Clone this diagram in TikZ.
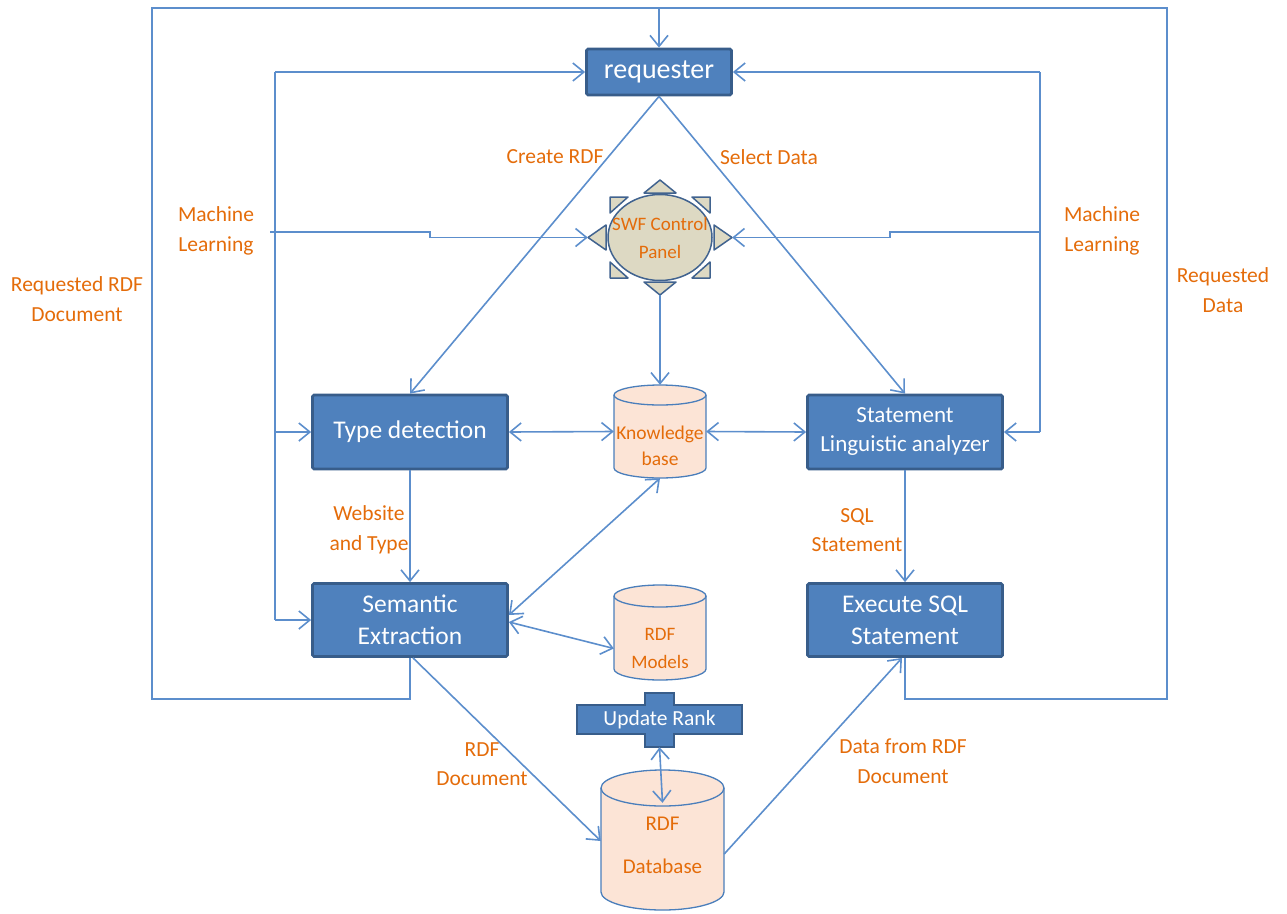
\documentclass[tikz,border=0pt]{standalone}
\usepackage{fontspec}
\setmainfont{Carlito}
\usetikzlibrary{arrows.meta,backgrounds}
\definecolor{boxfill}{HTML}{4F81BD}
\definecolor{boxline}{HTML}{385D8A}
\definecolor{conncol}{HTML}{5C8ECC}
\definecolor{lblcol}{HTML}{E46C0A}
\definecolor{cylfill}{HTML}{FCE4D6}
\definecolor{cylline}{HTML}{4A7EBB}
\definecolor{swffill}{HTML}{DDD9C3}
\definecolor{swfline}{HTML}{41638F}
\begin{document}
\begin{tikzpicture}[x=1pt,y=-1pt,
 box/.style={draw=boxline, fill=boxfill, line width=2.8pt, rounded corners=1.5pt, text=white, align=center, inner sep=0pt},
 lbl/.style={text=lblcol, align=center, font=\fontsize{21.5}{29.5}\selectfont, inner sep=0pt},
 cyltext/.style={text=lblcol, align=center, inner sep=0pt},
 conn/.style={draw=conncol, line width=1.6pt},
 arr/.style={conn, -{Straight Barb[length=11pt,width=18pt]}},
 darr/.style={conn, {Straight Barb[length=11pt,width=18pt]}-{Straight Barb[length=11pt,width=18pt]}},
 cyl/.style={fill=cylfill, draw=cylline, line width=1.3pt}]

\useasboundingbox (0,0) rectangle (1287,913);

% boxes
\node[box, minimum width=145pt, minimum height=46pt, font=\fontsize{28}{32}\selectfont] (req) at (659,72) {requester};
\node[box, minimum width=195pt, minimum height=74pt, font=\fontsize{25.5}{32}\selectfont] (td) at (410,432) {Type detection};
\node[box, minimum width=195pt, minimum height=74pt, font=\fontsize{23}{29}\selectfont] (sla) at (905,432) {Statement\\Linguistic analyzer};
\node[box, minimum width=195pt, minimum height=73pt, font=\fontsize{25.5}{32}\selectfont] (se) at (410,620) {Semantic\\Extraction};
\node[box, minimum width=195pt, minimum height=73pt, font=\fontsize{25.5}{32}\selectfont] (ex) at (905,620) {Execute SQL\\Statement};

% SWF control panel (sun shape)
\node[minimum width=144pt, minimum height=115pt, inner sep=0pt, text=lblcol, align=center, font=\fontsize{19}{28}\selectfont] (swf) at (660,237.5) {SWF Control\\Panel};
% cylinders
\node[minimum width=92pt, minimum height=93pt, inner sep=0pt,
  label={[cyltext, yshift=-14.5pt, font=\fontsize{19.5}{26}\selectfont]center:Knowledge\\base}] (kb) at (660,431.5) {};
\node[minimum width=92pt, minimum height=95pt, inner sep=0pt,
  label={[cyltext, yshift=-15.5pt, font=\fontsize{19}{28}\selectfont]center:RDF\\Models}] (rm) at (660,632.5) {};
\node[minimum width=123pt, minimum height=142pt, inner sep=0pt,
  label={[cyltext, yshift=-4pt, font=\fontsize{21}{43}\selectfont]center:RDF\\Database}] (db) at (662.5,841) {};
% update rank
\node[minimum width=165pt, minimum height=54pt, inner sep=0pt, text=white, font=\fontsize{21.5}{26}\selectfont] (ur) at (659.5,720) {Update Rank};

\begin{scope}[on background layer]
 % sun
 \begin{scope}[fill=swffill, draw=swfline, line width=1.5pt, line join=round]
  \filldraw (660,180) -- (644,193) -- (676,193) -- cycle;
  \filldraw (660,295) -- (644,282) -- (676,282) -- cycle;
  \filldraw (588,237.5) -- (606,225) -- (606,250) -- cycle;
  \filldraw (732,237.5) -- (714,225) -- (714,250) -- cycle;
  \filldraw (610,197) -- (628,197) -- (610,213) -- cycle;
  \filldraw (710,197) -- (692,197) -- (710,213) -- cycle;
  \filldraw (610,278) -- (628,278) -- (610,262) -- cycle;
  \filldraw (710,278) -- (692,278) -- (710,262) -- cycle;
  \filldraw (660,237.5) ellipse [x radius=52pt, y radius=43pt];
 \end{scope}
 % knowledge base
 \path[cyl] (614,395) -- (614,468) arc[start angle=180,end angle=360,x radius=46pt,y radius=10pt] -- (706,395) arc[start angle=0,end angle=180,x radius=46pt,y radius=10pt] -- cycle;
 \draw[cylline, line width=1.3pt] (614,395) arc[start angle=180,end angle=360,x radius=46pt,y radius=10pt];
 % rdf models
 \path[cyl] (614,596) -- (614,669) arc[start angle=180,end angle=360,x radius=46pt,y radius=11pt] -- (706,596) arc[start angle=0,end angle=180,x radius=46pt,y radius=11pt] -- cycle;
 \draw[cylline, line width=1.3pt] (614,596) arc[start angle=180,end angle=360,x radius=46pt,y radius=11pt];
 % rdf database
 \path[cyl] (601,788) -- (601,892) arc[start angle=180,end angle=360,x radius=61.5pt,y radius=18pt] -- (724,788) arc[start angle=0,end angle=180,x radius=61.5pt,y radius=18pt] -- cycle;
 \draw[cylline, line width=1.3pt] (601,788) arc[start angle=180,end angle=360,x radius=61.5pt,y radius=18pt];
 % update rank cross
 \filldraw[fill=boxfill, draw=boxline, line width=2.6pt, line join=miter]
   (577,705) -- (645,705) -- (645,693) -- (674,693) -- (674,705) -- (742,705) -- (742,734)
   -- (674,734) -- (674,747) -- (645,747) -- (645,734) -- (577,734) -- cycle;
\end{scope}

% labels
\node[lbl] (lcr) at (555,157) {Create RDF};
\node[lbl] (lsd) at (769,157) {Select Data};
\node[lbl] (lml) at (216,231) {Machine\\Learning};
\node[lbl] (lmr) at (1102,231) {Machine\\Learning};
\node[lbl] (lrrd) at (77,299) {Requested RDF\\Document};
\node[lbl] (lrd) at (1223,290) {Requested\\Data};
\node[lbl] (lwt) at (369,530) {Website\\and Type};
\node[lbl] (lsql) at (857,530) {SQL\\Statement};
\node[lbl] (lrdoc) at (482,764) {RDF\\Document};
\node[lbl] (ldfr) at (903,761) {Data from RDF\\Document};

% coordinates
\coordinate (lt) at (275,72);
\coordinate (lb) at (275,620);
\coordinate (mlL) at (270,232);
\coordinate (rt) at (1040,72);
\coordinate (rb) at (1040,432);
\coordinate (mlR) at (1040,232);
\coordinate (olL) at (152,8);
\coordinate (olR) at (1167,8);
\coordinate (otop) at (659,8);

% connectors
\draw[arr] (se.south) -- ++(0,41) -| (olL) -| (req.north);
\draw[conn] (ex.south) -- ++(0,41) -| (olR) -- (otop);

\draw[conn] (lt) -- (lb);
\draw[arr] (lt) -- (req.west);
\draw[arr] (lt |- td.west) -- (td.west);
\draw[arr] (lb) -- (se.west);
\draw[arr] (mlL) -- ++(160,0) |- (swf.west);

\draw[conn] (rt) -- (rb);
\draw[arr] (rt) -- (req.east);
\draw[arr] (rb) -- (sla.east);
\draw[arr] (mlR) -- ++(-150,0) |- (swf.east);

\draw[arr] (req.south) -- (td.north);
\draw[arr] (req.south) -- (sla.north);
\draw[arr] (swf.south) -- (kb.north);
\draw[darr] (td.east) -- (kb.west);
\draw[darr] (kb.east) -- (sla.west);
\draw[arr] (td.south) -- (se.north);
\draw[arr] (sla.south) -- (ex.north);
\draw[darr] ([yshift=5pt]se.east) -- (kb.south);
\draw[darr] ([yshift=-2pt]se.east) -- ([yshift=-16pt]rm.west);
\draw[arr] ([xshift=3pt]se.south) -- (db.west);
\draw[arr] ([yshift=-13pt]db.east) -- ([xshift=-3pt]ex.south);
\draw[darr] (ur.south) -- ([yshift=-33pt]db.north);
\end{tikzpicture}
\end{document}
